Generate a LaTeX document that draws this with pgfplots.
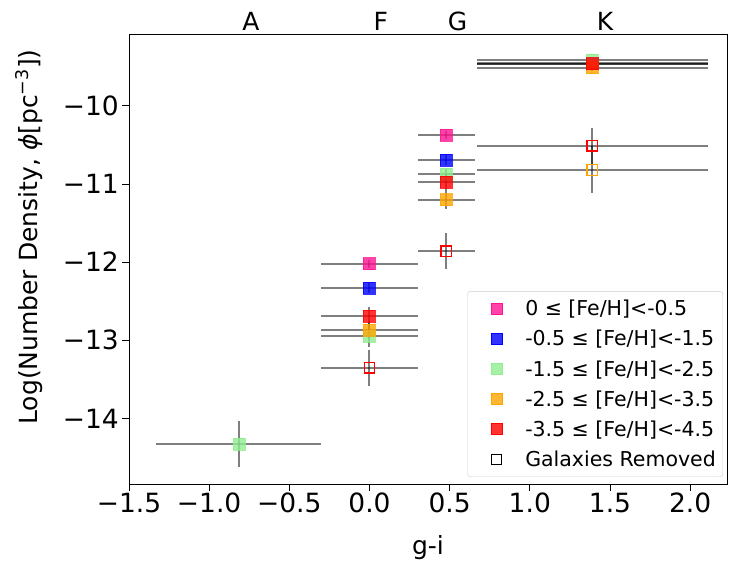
\documentclass[border=0pt]{standalone}
\usepackage{pgfplots}
\pgfplotsset{compat=1.18}
\usepackage{pgfplotstable}
\usepackage{fontspec}
\setmainfont{DejaVu Sans}
\definecolor{cpink}{HTML}{FF1493}
\definecolor{cblue}{HTML}{0000FF}
\definecolor{cgreen}{HTML}{90EE90}
\definecolor{corange}{HTML}{FFA500}
\definecolor{cred}{HTML}{FF0000}

\pgfplotstableread{
x y ex ey
0 -12.02 0.30 0.05
0.48 -10.37 0.18 0.05
1.39 -9.45 0.72 0.04
}\pinkdata
\pgfplotstableread{
x y ex ey
0 -12.33 0.30 0.06
0.48 -10.69 0.18 0.07
1.39 -9.46 0.72 0.04
}\bluedata
\pgfplotstableread{
x y ex ey
-0.815 -14.33 0.515 0.29
0 -12.95 0.30 0.14
0.48 -10.87 0.18 0.06
1.39 -9.41 0.72 0.04
}\greendata
\pgfplotstableread{
x y ex ey
0 -12.87 0.30 0.12
0.48 -11.20 0.18 0.12
1.39 -9.51 0.72 0.05
}\orangedata
\pgfplotstableread{
x y ex ey
0 -12.69 0.30 0.12
0.48 -10.98 0.18 0.10
1.39 -9.46 0.72 0.05
}\reddata
\pgfplotstableread{
x y ex ey
0 -13.35 0.30 0.23
0.48 -11.86 0.18 0.23
1.39 -10.51 0.72 0.23
}\redopen
\pgfplotstableread{
x y ex ey
1.39 -10.82 0.72 0.30
}\orangeopen

\pgfplotsset{
  ebar/.style={error bars/.cd, x dir=both, x explicit, y dir=both, y explicit,
    error mark=none, error bar style={line width=2pt, black, opacity=0.5}},
  fm/.style={only marks, mark=square*, mark size=6pt, mark options={fill opacity=0.8, draw opacity=0.8}},
}

\begin{document}
\begin{tikzpicture}
\useasboundingbox (-129pt,-86pt) rectangle (600pt,484pt);
\begin{axis}[
  scale only axis, width=598pt, height=450pt,
  at={(0,0)}, anchor=south west,
  xmin=-1.5, xmax=2.23, ymin=-14.84, ymax=-9.08,
  xtick={-1.5,-1,-0.5,0,0.5,1,1.5,2},
  xticklabels={−1.5,−1.0,−0.5,0.0,0.5,1.0,1.5,2.0},
  ytick={-14,-13,-12,-11,-10},
  yticklabels={−14,−13,−12,−11,−10},
  xtick pos=bottom, ytick pos=left, tick align=outside,
  major tick length=7pt,
  tick style={black, line width=0.9pt},
  axis line style={line width=0.9pt},
  ticklabel style={font=\fontsize{26.5}{30}\selectfont},
  xticklabel style={inner sep=2pt},
  yticklabel style={inner sep=3pt},
  xlabel={g-i},
  ylabel={Log(Number Density, \textit{ϕ}[pc\textsuperscript{−3}])},
  label style={font=\fontsize{25}{30}\selectfont},
  xlabel style={at={(axis description cs:0.5,-0.142)}, anchor=center},
  ylabel style={at={(axis description cs:-0.167,0.549)}, anchor=center},
  legend style={at={(axis description cs:0.9933,0.0156)}, anchor=south east,
    draw=black!20, rounded corners=3pt, fill=white, fill opacity=0.8, text opacity=1,
    font=\fontsize{20.5}{24}\selectfont, row sep=9pt, inner xsep=5pt, inner ysep=7pt,
    /tikz/every odd column/.append style={column sep=21pt}},
  legend cell align=left,
  legend image code/.code={\draw[mark repeat=2, mark phase=2, #1] plot coordinates {(0cm,0cm) (0.3cm,0cm) (0.6cm,0cm)}; \path (-15.5pt,0pt);},
]
\addplot[forget plot, color=cpink, fm, ebar] table[x=x, y=y, x error=ex, y error=ey]{\pinkdata};
\addplot[forget plot, color=cblue, fm, ebar] table[x=x, y=y, x error=ex, y error=ey]{\bluedata};
\addplot[forget plot, color=cgreen, fm, ebar] table[x=x, y=y, x error=ex, y error=ey]{\greendata};
\addplot[forget plot, color=corange, fm, ebar] table[x=x, y=y, x error=ex, y error=ey]{\orangedata};
\addplot[forget plot, color=cred, fm, ebar] table[x=x, y=y, x error=ex, y error=ey]{\reddata};
\addplot[forget plot, color=cred, only marks, mark=square, mark size=5.3pt, mark options={line width=1.3pt}, ebar] table[x=x, y=y, x error=ex, y error=ey]{\redopen};
\addplot[forget plot, color=corange, only marks, mark=square, mark size=5.3pt, mark options={line width=1.3pt}, ebar] table[x=x, y=y, x error=ex, y error=ey]{\orangeopen};

\addlegendimage{only marks, color=cpink, mark=square*, mark size=5.5pt}
\addlegendentry{0 ≤ [Fe/H]<-0.5}
\addlegendimage{only marks, color=cblue, mark=square*, mark size=5.5pt}
\addlegendentry{-0.5 ≤ [Fe/H]<-1.5}
\addlegendimage{only marks, color=cgreen, mark=square*, mark size=5.5pt}
\addlegendentry{-1.5 ≤ [Fe/H]<-2.5}
\addlegendimage{only marks, color=corange, mark=square*, mark size=5.5pt}
\addlegendentry{-2.5 ≤ [Fe/H]<-3.5}
\addlegendimage{only marks, color=cred, mark=square*, mark size=5.5pt}
\addlegendentry{-3.5 ≤ [Fe/H]<-4.5}
\addlegendimage{only marks, color=black, mark=square, mark size=5pt, mark options={line width=1.3pt}}
\addlegendentry{Galaxies Removed}
\end{axis}
\begin{axis}[
  scale only axis, width=598pt, height=450pt,
  at={(0,0)}, anchor=south west,
  xmin=-1.5, xmax=2.23, ymin=0, ymax=1,
  axis x line*=top, hide y axis,
  axis line style={draw=none},
  xtick={-0.74,0.07,0.55,1.47},
  xticklabels={A,F,G,K},
  major tick length=0pt,
  xticklabel style={font=\fontsize{25}{30}\selectfont, inner sep=3pt},
]
\end{axis}
\end{tikzpicture}
\end{document}
